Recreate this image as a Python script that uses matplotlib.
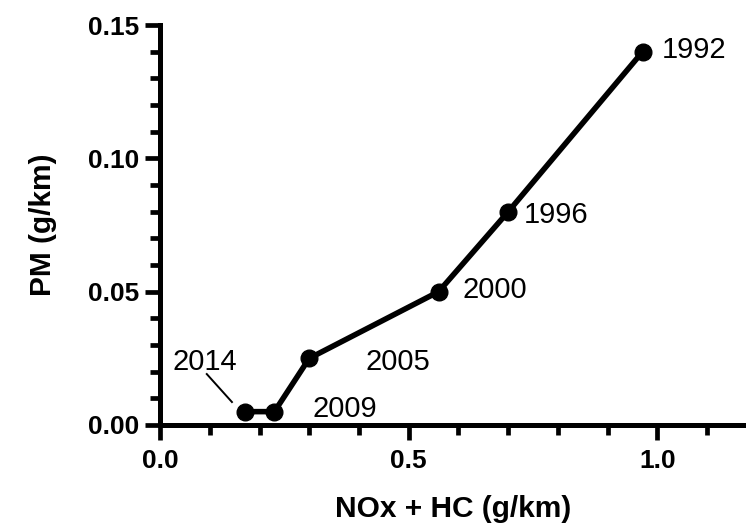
import matplotlib
matplotlib.use("Agg")
import matplotlib.pyplot as plt
from matplotlib.ticker import MultipleLocator, FormatStrFormatter

plt.rcParams['font.family'] = ['Liberation Sans', 'DejaVu Sans']

# data
nox_hc = [0.97, 0.70, 0.56, 0.30, 0.23, 0.17]
pm = [0.14, 0.08, 0.05, 0.025, 0.005, 0.005]
years = ['1992', '1996', '2000', '2005', '2009', '2014']

# label anchor (x centre, baseline y) in data units
label_pos = [(1.074, 0.1376), (0.797, 0.0757), (0.673, 0.0476),
             (0.478, 0.0206), (0.371, 0.0030), (0.090, 0.0206)]

fig = plt.figure(figsize=(7.46, 5.24), dpi=100)
ax = fig.add_axes([0.2145, 0.189, 0.7855, 0.763])

ax.plot(nox_hc, pm, color='black', lw=4.0, marker='o', ms=12,
        solid_capstyle='round', zorder=3)

for i, yr in enumerate(years):
    lx, ly = label_pos[i]
    ax.text(lx, ly, yr, fontsize=21, ha='center', va='baseline')

# leader line for 2014
ax.plot([0.094, 0.1446], [0.0191, 0.0086], color='black', lw=1.4)

ax.set_xlim(0, 1.178)
ax.set_ylim(0, 0.15)
ax.spines['top'].set_visible(False)
ax.spines['right'].set_visible(False)
ax.spines['left'].set_linewidth(3.6)
ax.spines['bottom'].set_linewidth(3.6)

ax.xaxis.set_major_locator(MultipleLocator(0.5))
ax.xaxis.set_minor_locator(MultipleLocator(0.1))
ax.yaxis.set_major_locator(MultipleLocator(0.05))
ax.yaxis.set_minor_locator(MultipleLocator(0.01))
ax.xaxis.set_major_formatter(FormatStrFormatter('%.1f'))
ax.yaxis.set_major_formatter(FormatStrFormatter('%.2f'))

ax.tick_params(which='major', length=11, width=3.4, labelsize=19)
ax.tick_params(which='minor', length=7, width=3.4)
ax.tick_params(axis='x', which='major', pad=6)
ax.tick_params(axis='y', which='major', pad=4)
for lab in ax.get_xticklabels() + ax.get_yticklabels():
    lab.set_fontweight('bold')

ax.set_xlabel('NOx + HC (g/km)', fontsize=21.5, fontweight='bold', labelpad=16)
ax.set_ylabel('PM (g/km)', fontsize=21.5, fontweight='bold', labelpad=22)

fig.savefig('out.png', dpi=100)
